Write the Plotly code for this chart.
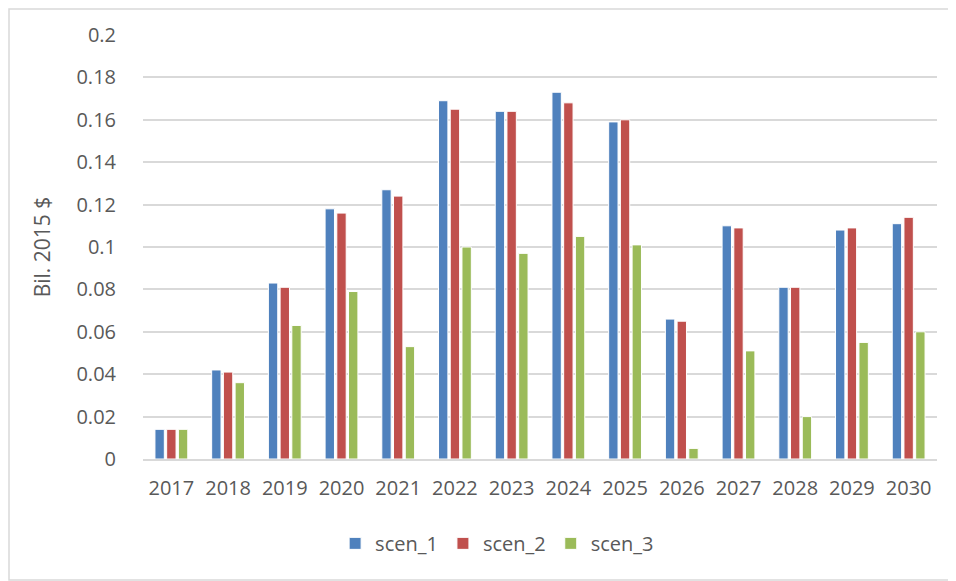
import plotly.graph_objects as go

years = ["2017", "2018", "2019", "2020", "2021", "2022", "2023",
         "2024", "2025", "2026", "2027", "2028", "2029", "2030"]
scen_1 = [0.014, 0.042, 0.083, 0.118, 0.127, 0.169, 0.164,
          0.173, 0.159, 0.066, 0.110, 0.081, 0.108, 0.111]
scen_2 = [0.014, 0.041, 0.081, 0.116, 0.124, 0.165, 0.164,
          0.168, 0.160, 0.065, 0.109, 0.081, 0.109, 0.114]
scen_3 = [0.014, 0.036, 0.063, 0.079, 0.053, 0.100, 0.097,
          0.105, 0.101, 0.005, 0.051, 0.020, 0.055, 0.060]

series = [("scen_1", scen_1, "#4F81BD"),
          ("scen_2", scen_2, "#C0504D"),
          ("scen_3", scen_3, "#9BBB59")]

fig = go.Figure()
for name, vals, color in series:
    fig.add_trace(go.Bar(x=years, y=vals, name=name,
                         marker=dict(color=color, line=dict(color="white", width=1))))

font = dict(family="Open Sans, Liberation Sans, sans-serif", size=20, color="#595959")

# page body has an 8px margin, so the figure is a bit smaller than the window
W, H = 948, 573
L, R, T, B = 135, 19, 27, 122

fig.update_layout(
    width=W, height=H,
    margin=dict(l=L, r=R, t=T, b=B, autoexpand=False),
    paper_bgcolor="white", plot_bgcolor="white",
    barmode="group", bargap=0.38, bargroupgap=0.2,
    font=font,
    xaxis=dict(showgrid=False, showline=True, linecolor="#D9D9D9", linewidth=2,
               ticks="outside", ticklen=10, tickcolor="rgba(0,0,0,0)", tickfont=font),
    yaxis=dict(range=[0, 0.2], dtick=0.02, showgrid=True, gridcolor="#D9D9D9",
               gridwidth=1.5, zeroline=False, showline=False, tickfont=font,
               ticks="outside", ticklen=22, tickcolor="rgba(0,0,0,0)",
               title=dict(text="Bil. 2015 $", font=dict(font, size=21), standoff=20)),
    legend=dict(orientation="h", x=0.446, xanchor="center", y=-0.153, yanchor="top",
                font=font, traceorder="normal", bgcolor="rgba(0,0,0,0)"),
)

# outer chart border
pw, ph = W - L - R, H - T - B
fig.add_shape(type="rect", xref="paper", yref="paper",
              x0=(1 - L) / pw, x1=(W - 1 - L) / pw,
              y0=-(B - 1) / ph, y1=(ph + T - 1) / ph,
              line=dict(color="#D9D9D9", width=1.5))

fig.write_html("out.html")
